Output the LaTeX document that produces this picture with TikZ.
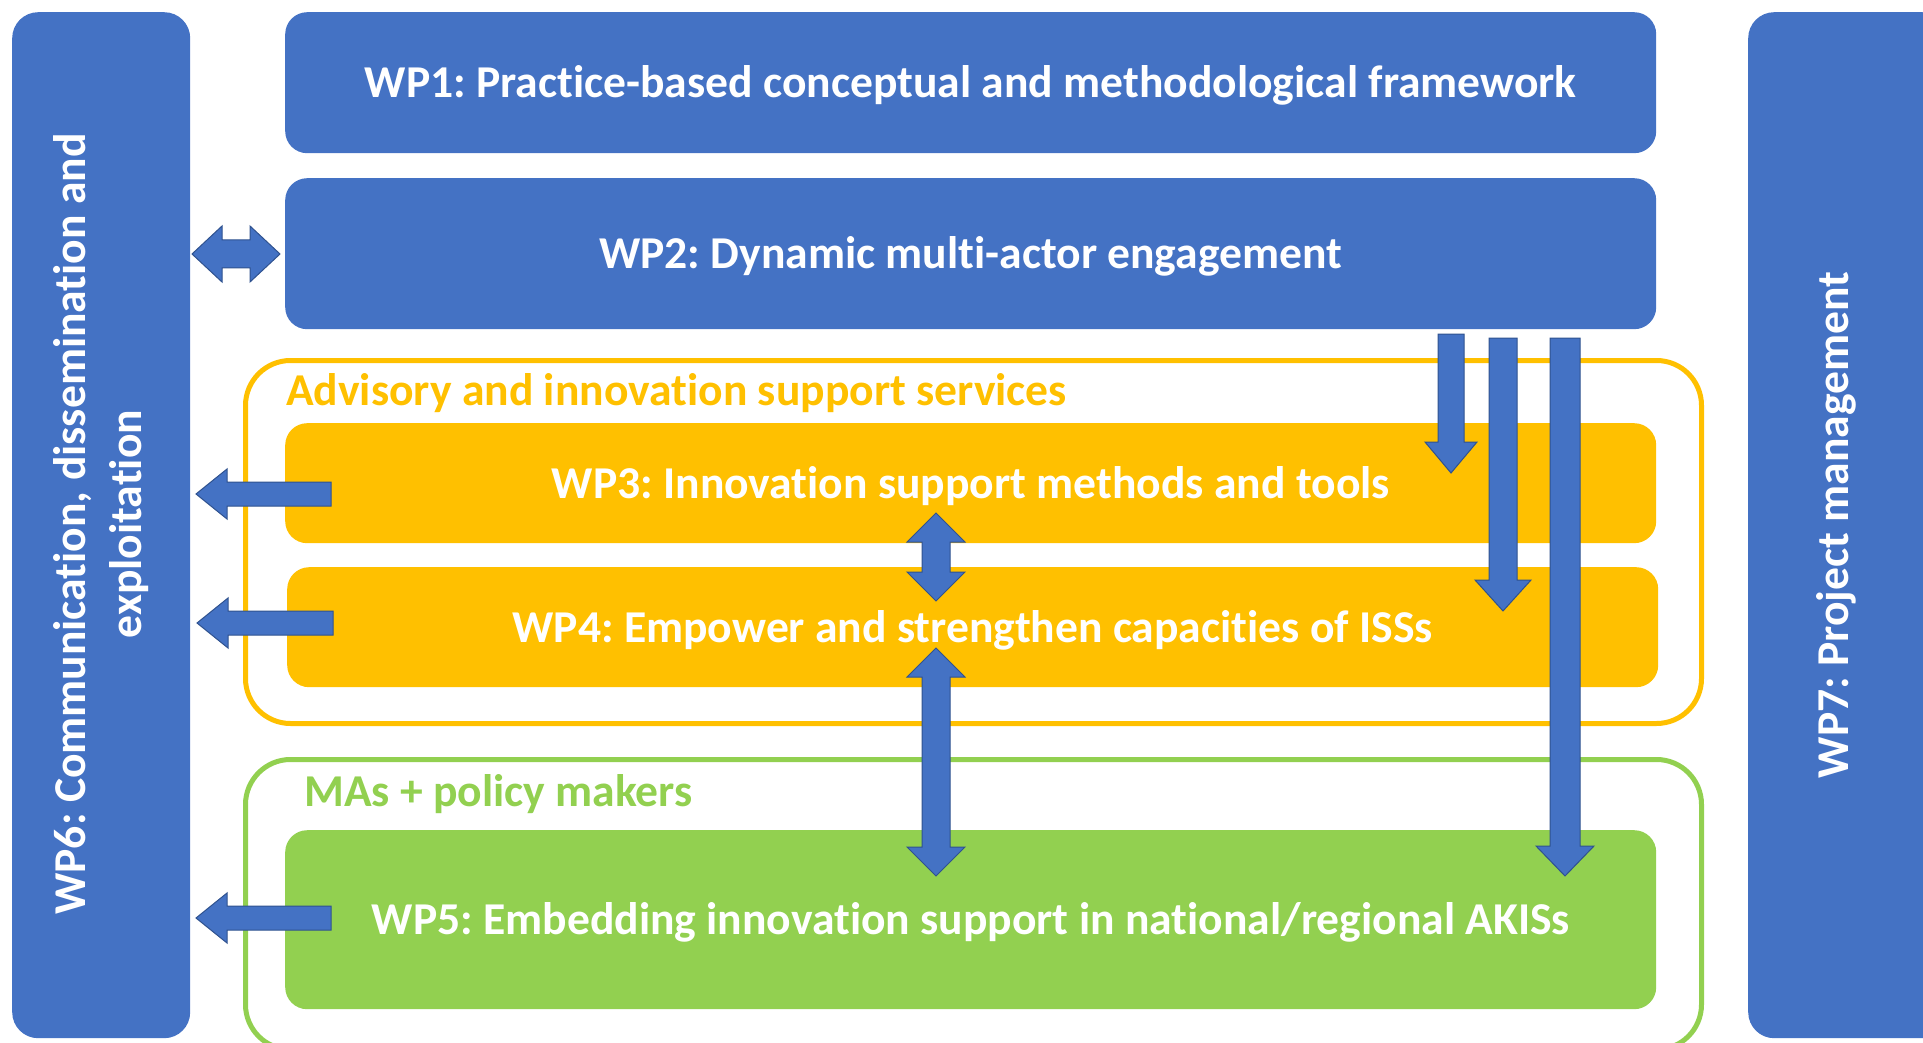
\documentclass[tikz,border=0pt]{standalone}
\usepackage{fontspec}
\setmainfont{Carlito}[Ligatures={NoCommon}]
\usetikzlibrary{calc}
\definecolor{wpblue}{HTML}{4472C4}
\definecolor{wpdark}{HTML}{2F528F}
\definecolor{wporange}{HTML}{FFC000}
\definecolor{wpgreen}{HTML}{92D050}
\frenchspacing
\newcommand\wpfont{\bfseries\fontsize{45.6}{56}\selectfont}
% down arrow: w h L top tip
\newcommand\arrDown[5]{\filldraw[blockarrow] ($(#4)+(-#1,0)$) -- ($(#5)+(-#1,-#3)$) -- ($(#5)+(-#2,-#3)$) -- (#5) -- ($(#5)+(#2,-#3)$) -- ($(#5)+(#1,-#3)$) -- ($(#4)+(#1,0)$) -- cycle;}
% left arrow: w h L tail tip
\newcommand\arrLeft[5]{\filldraw[blockarrow] ($(#4)+(0,-#1)$) -- ($(#5)+(#3,-#1)$) -- ($(#5)+(#3,-#2)$) -- (#5) -- ($(#5)+(#3,#2)$) -- ($(#5)+(#3,#1)$) -- ($(#4)+(0,#1)$) -- cycle;}
% vertical double arrow: w h L toptip bottomtip
\newcommand\arrVD[5]{\filldraw[blockarrow] (#4) -- ($(#4)+(#2,#3)$) -- ($(#4)+(#1,#3)$) -- ($(#5)+(#1,-#3)$) -- ($(#5)+(#2,-#3)$) -- (#5) -- ($(#5)+(-#2,-#3)$) -- ($(#5)+(-#1,-#3)$) -- ($(#4)+(-#1,#3)$) -- ($(#4)+(-#2,#3)$) -- cycle;}
% horizontal double arrow: w h L lefttip righttip
\newcommand\arrHD[5]{\filldraw[blockarrow] (#4) -- ($(#4)+(#3,-#2)$) -- ($(#4)+(#3,-#1)$) -- ($(#5)+(-#3,-#1)$) -- ($(#5)+(-#3,-#2)$) -- (#5) -- ($(#5)+(-#3,#2)$) -- ($(#5)+(-#3,#1)$) -- ($(#4)+(#3,#1)$) -- ($(#4)+(#3,#2)$) -- cycle;}
\tikzset{
  wpbox/.style={rectangle, rounded corners=22pt, inner sep=0pt, text=white, font=\wpfont, anchor=north west, fill=wpblue, text height=40pt, text depth=10pt},
  sidebar/.style={rectangle, rounded corners=26pt, inner sep=0pt, fill=wpblue, anchor=north west},
  sidetext/.style={text=white, font=\wpfont, rotate=90, align=center, inner sep=0pt},
  container/.style={rectangle, rounded corners=45pt, line width=5pt, inner sep=0pt, anchor=north west},
  grouplabel/.style={font=\wpfont, anchor=west, inner sep=0pt},
  blockarrow/.style={fill=wpblue, draw=wpdark, line width=1pt, line join=miter},
}
\begin{document}
\begin{tikzpicture}[x=1pt,y=-1pt]
\useasboundingbox (0,0) rectangle (1923,1043);
\clip (0,0) rectangle (1923,1043);
% side bars
\node[sidebar, minimum width=178pt, minimum height=1026pt] (wp6) at (12,12) {};
\node[sidetext] (wp6t) at (101,524) {WP6: Communication, dissemination and\\exploitation};
\node[sidebar, minimum width=200pt, minimum height=1026pt] (wp7) at (1748,12) {};
\node[sidetext] (wp7t) at (1836,525) {WP7: Project management};
% containers
\node[container, draw=wporange, minimum width=1456pt, minimum height=363pt] (adv) at (243,358) {};
\node[container, draw=wpgreen, minimum width=1456pt, minimum height=290pt] (mas) at (243,757) {};
\node[grouplabel, text=wporange] (advl) at (286,393) {Advisory and innovation support services};
\node[grouplabel, text=wpgreen] (masl) at (304,794) {MAs + policy makers};
% WP boxes
\node[wpbox, minimum width=1371pt, minimum height=141pt] (wp1) at (285,12) {WP1: Practice-based conceptual and methodological framework};
\node[wpbox, minimum width=1371pt, minimum height=151pt] (wp2) at (285,178) {WP2: Dynamic multi-actor engagement};
\node[wpbox, fill=wporange, minimum width=1371pt, minimum height=120pt] (wp3) at (285,423) {WP3: Innovation support methods and tools};
\node[wpbox, fill=wporange, minimum width=1371pt, minimum height=120pt] (wp4) at (287,567) {WP4: Empower and strengthen capacities of ISSs};
\node[wpbox, fill=wpgreen, minimum width=1371pt, minimum height=179pt] (wp5) at (285,830) {WP5: Embedding innovation support in national/regional AKISs};
% arrow coordinates
\coordinate (h1) at (192,254);
\coordinate (h2) at (280,254);
\coordinate (l3s) at (331,494); \coordinate (l3e) at (196,494);
\coordinate (l4s) at (333,623); \coordinate (l4e) at (197,623);
\coordinate (l5s) at (331,918); \coordinate (l5e) at (196,918);
\coordinate (a1s) at (1451,334); \coordinate (a1e) at (1451,473);
\coordinate (a2s) at (1503,338); \coordinate (a2e) at (1503,611);
\coordinate (a3s) at (1565,338); \coordinate (a3e) at (1565,876);
\coordinate (b1s) at (936,513); \coordinate (b1e) at (936,601);
\coordinate (b2s) at (936,648); \coordinate (b2e) at (936,876);
% arrows
\arrHD{14}{28}{30}{h1}{h2}
\arrLeft{12}{25}{31}{l3s}{l3e}
\arrLeft{12}{25}{31}{l4s}{l4e}
\arrLeft{12}{25}{31}{l5s}{l5e}
\arrDown{13}{26}{31}{a1s}{a1e}
\arrDown{14}{28}{31}{a2s}{a2e}
\arrDown{15}{29}{30}{a3s}{a3e}
\arrVD{14}{29}{29}{b1s}{b1e}
\arrVD{14}{29}{29}{b2s}{b2e}
\end{tikzpicture}
\end{document}
